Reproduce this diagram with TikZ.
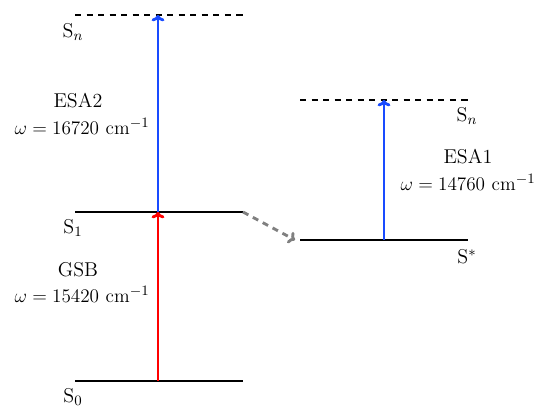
\documentclass[tikz,border=0pt]{standalone}
\usetikzlibrary{arrows.meta}
\definecolor{myblue}{RGB}{25,75,255}
\begin{document}
\begin{tikzpicture}[x=0.625pt,y=-0.625pt,
  level/.style={line width=1.8pt,black},
  virt/.style={line width=1.8pt,black,dash pattern=on 3.9pt off 3.3pt},
  trans/.style={line width=1.8pt,->,>={To[length=4pt,width=8pt]}},
  relax/.style={line width=1.8pt,gray,dash pattern=on 3.8pt off 3.2pt,->,>={To[length=4pt,width=8pt]}},
  lab/.style={inner sep=0pt,font=\fontsize{12.5}{15}\selectfont}]
\useasboundingbox (0,0) rectangle (539,407);
% level end points
\coordinate (snL1) at (75,15);  \coordinate (snL2) at (243,15);
\coordinate (s1a) at (75,212);  \coordinate (s1b) at (243,212);
\coordinate (s0a) at (75,381);  \coordinate (s0b) at (243,381);
\coordinate (snR1) at (300,100); \coordinate (snR2) at (468,100);
\coordinate (ssa) at (300,240); \coordinate (ssb) at (468,240);
% transition points
\coordinate (t0) at (158,381); \coordinate (t1) at (158,212); \coordinate (tn) at (158,15);
\coordinate (u0) at (384,240); \coordinate (un) at (384,100);
\coordinate (rend) at (295,240);
% levels
\draw[virt] (snL1) -- (snL2);
\draw[level] (s1a) -- (s1b);
\draw[level] (s0a) -- (s0b);
\draw[virt] (snR1) -- (snR2);
\draw[level] (ssa) -- (ssb);
% transitions
\draw[trans,red] (t0) -- (t1);
\draw[trans,myblue] (t1) -- (tn);
\draw[trans,myblue] (u0) -- (un);
\draw[relax] (s1b) -- (rend);
% labels
\node[lab] (lsnL) at (73,32) {S$_n$};
\node[lab] (ls1) at (73,228) {S$_1$};
\node[lab] (ls0) at (73,397) {S$_0$};
\node[lab] (lsnR) at (467,116) {S$_n$};
\node[lab] (lss) at (467,257) {S$^*$};
\node[lab] (esa2) at (78,101) {ESA2};
\node[lab] (w2) at (82,126) {$\omega=16720\ \mathrm{cm}^{-1}$};
\node[lab] (gsb) at (78,270) {GSB};
\node[lab] (w0) at (82,294) {$\omega=15420\ \mathrm{cm}^{-1}$};
\node[lab] (esa1) at (468,157) {ESA1};
\node[lab] (w1) at (468,182) {$\omega=14760\ \mathrm{cm}^{-1}$};
\end{tikzpicture}
\end{document}
